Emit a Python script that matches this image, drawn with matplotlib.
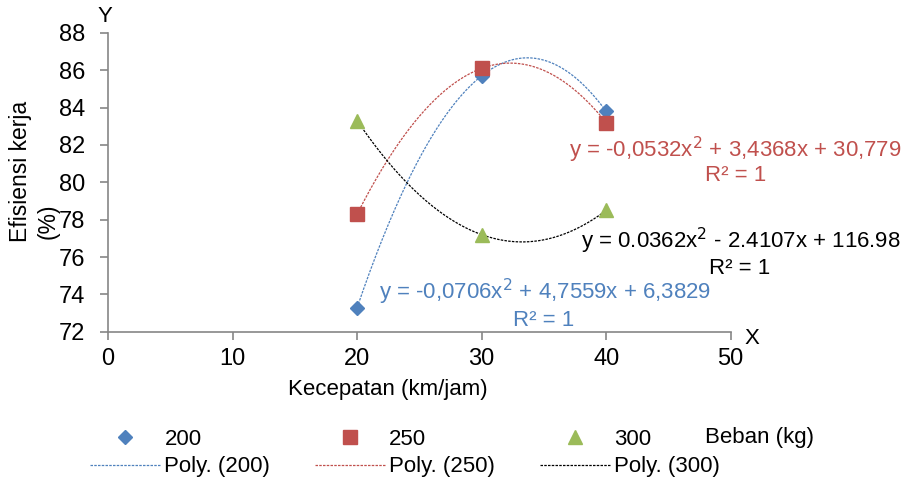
import numpy as np
import matplotlib
matplotlib.use("Agg")
import matplotlib.pyplot as plt

plt.rcParams['font.family'] = ['Liberation Sans', 'DejaVu Sans']

speed = [20, 30, 40]
eff_200 = [73.3, 85.7, 83.8]
eff_250 = [78.3, 86.1, 83.2]
eff_300 = [83.3, 77.2, 78.5]
series_names = ["200", "250", "300"]
eq_200 = "y = -0,0706x$^2$ + 4,7559x + 6,3829"
eq_250 = "y = -0,0532x$^2$ + 3,4368x + 30,779"
eq_300 = "y = 0.0362x$^2$ - 2.4107x + 116.98"
xticks = [0, 10, 20, 30, 40, 50]
yticks = [72, 74, 76, 78, 80, 82, 84, 86, 88]

blue, red, green = "#4F81BD", "#C0504D", "#9BBB59"
FS = 16

fig = plt.figure(figsize=(9.01, 4.83), dpi=100)
ax = fig.add_axes([0.12, 0.313, 0.691, 0.619])

xs = np.linspace(20, 40, 200)
handles = []
for vals, name, col, mk, ms, lcol in [
    (eff_200, "200", blue, "D", 7.5, blue),
    (eff_250, "250", red, "s", 9.5, red),
    (eff_300, "300", green, "^", 10, "black"),
]:
    h, = ax.plot(speed, vals, linestyle="none", marker=mk, color=col, markersize=ms, zorder=3)
    c = np.polyfit(speed, vals, 2)
    l, = ax.plot(xs, np.polyval(c, xs), linestyle=(0, (2, 1)), color=lcol, linewidth=0.9, zorder=2)
    handles.append((h, l, name))

ax.set_xlim(0, 50)
ax.set_ylim(72, 88)
ax.set_xticks(xticks)
ax.set_yticks(yticks)
for s in ["top", "right"]:
    ax.spines[s].set_visible(False)
for s in ["left", "bottom"]:
    ax.spines[s].set_color("#868686")
    ax.spines[s].set_linewidth(1.2)
ax.tick_params(axis="both", colors="#868686", length=5.5, width=1.2, labelsize=17, labelcolor="black")
ax.tick_params(axis="y", pad=11)
ax.tick_params(axis="x", pad=6)

fig.text(388 / 901, 1 - 389 / 483, "Kecepatan (km/jam)", fontsize=FS, ha="center", va="center")
fig.text(21 / 901, 1 - 171 / 483, "Efisiensi kerja", rotation=90, fontsize=16.5,
         ha="center", va="center")
fig.text(48 / 901, 1 - 221 / 483, "(%)", rotation=90, fontsize=16.5,
         ha="center", va="center")
fig.text(0.116, 0.965, "Y", fontsize=FS, ha="center", va="center")
fig.text(0.835, 0.30, "X", fontsize=FS, ha="center", va="center")

ax.text(0.816, 0.689, eq_250, transform=fig.transFigure, color=red, fontsize=FS, ha="center", va="center")
ax.text(0.816, 0.636, "R² = 1", transform=fig.transFigure, color=red, fontsize=FS, ha="center", va="center")
ax.text(0.822, 0.501, eq_300, transform=fig.transFigure, color="black", fontsize=FS, ha="center", va="center")
ax.text(0.821, 0.445, "R² = 1", transform=fig.transFigure, color="black", fontsize=FS, ha="center", va="center")
ax.text(0.605, 0.395, eq_200, transform=fig.transFigure, color=blue, fontsize=FS, ha="center", va="center")
ax.text(0.603, 0.337, "R² = 1", transform=fig.transFigure, color=blue, fontsize=FS, ha="center", va="center")

leg_h, leg_l = [], []
for h, l, name in handles:
    leg_h += [h, l]
    leg_l += [name, "Poly. (%s)" % name]
fig.legend(leg_h, leg_l, ncol=3, loc="center left", bbox_to_anchor=(0.09, 0.062),
           frameon=False, fontsize=FS, handlelength=3.15, handletextpad=0.2,
           columnspacing=2.0, labelspacing=0.3, borderaxespad=0.0)
fig.text(0.783, 0.095, "Beban (kg)", fontsize=FS, ha="left", va="center")

fig.savefig("out.png", dpi=100)
